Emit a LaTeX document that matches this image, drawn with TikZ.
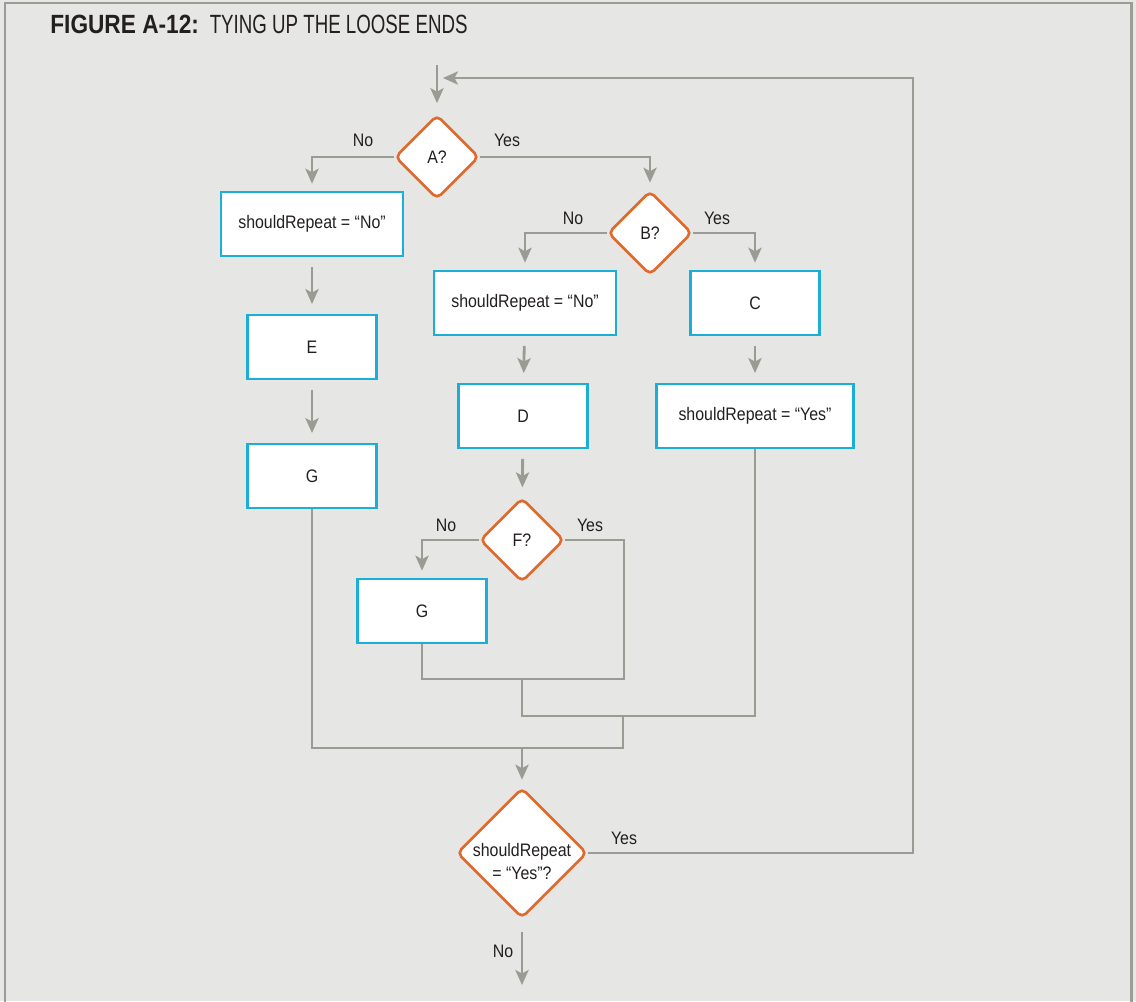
\documentclass[tikz,border=0pt]{standalone}
\usepackage{fontspec}
\setmainfont{Liberation Sans}[FakeStretch=0.88]
\newfontfamily\titlebold{Liberation Sans Bold}[FakeStretch=0.86]
\newfontfamily\titlefont{Liberation Sans}[FakeStretch=0.71]
\usetikzlibrary{positioning,arrows.meta,shapes.geometric}
\definecolor{panelgray}{RGB}{230,230,228}
\definecolor{framegray}{RGB}{155,156,148}
\definecolor{flowgray}{RGB}{154,155,147}
\definecolor{stepcyan}{RGB}{27,174,214}
\definecolor{testorange}{RGB}{224,106,44}
\definecolor{inkdark}{RGB}{35,31,32}

\begin{document}
\begin{tikzpicture}[x=.02cm,y=-.02cm,
    every node/.style={font=\fontsize{10.3}{13}\selectfont,text=inkdark},
    stepbox/.style={draw=stepcyan,line width=1.5pt,fill=white,minimum height=1.28cm,inner sep=0pt},
    testbox/.style={diamond,draw=testorange,line width=1.5pt,fill=white,rounded corners=3pt,minimum size=1.68cm,inner sep=0pt,align=center},
    flow/.style={draw=flowgray,line width=1.6pt,-{Stealth[length=8.5pt,width=7.5pt,inset=2pt]}},
    joinline/.style={draw=flowgray,line width=1.6pt},
    branch/.style={flow,shorten >=4pt},
    chain/.style={flow,shorten <=5.5pt,shorten >=5.5pt}]
    \useasboundingbox (0,0) rectangle (1136,1001);
    \fill[panelgray] (0,0) rectangle (1136,1001);
    \draw[framegray,line width=1.7pt] (5,1010) |- (1131,3) -- (1131,1010);
    \node[anchor=base west,inner sep=0pt,font=\fontsize{15}{18}\selectfont] (title) at (50,33)
      {{\titlebold FIGURE A-12:}\ \,{\titlefont TYING UP THE LOOSE ENDS}};

    % decisions and steps
    \node[testbox] (A) at (437,157) {A?};
    \node[stepbox,minimum width=3.64cm] (N1) at (312,224) {shouldRepeat = “No”};
    \node[stepbox,minimum width=2.58cm] (E) at (312,347) {E};
    \node[stepbox,minimum width=2.58cm] (G1) at (312,476) {G};
    \node[testbox] (B) at (650,233) {B?};
    \node[stepbox,minimum width=3.64cm] (N2) at (525,303) {shouldRepeat = “No”};
    \node[stepbox,minimum width=2.58cm] (D) at (523,416) {D};
    \node[testbox] (F) at (522,540) {F?};
    \node[stepbox,minimum width=2.58cm] (G2) at (422,611) {G};
    \node[stepbox,minimum width=2.58cm] (C) at (755,303) {C};
    \node[stepbox,minimum width=3.94cm] (Y) at (755,416) {shouldRepeat = “Yes”};
    \node[testbox,minimum size=2.6cm,
      label={[align=center,yshift=-.17cm]center:shouldRepeat\\= “Yes”?}] (R) at (522,853) {};

    \coordinate (entry) at (437,65);
    \coordinate (loopin) at (443,78);
    \coordinate (loopturn) at (913,78);
    \coordinate (fjoin) at (624,679);
    \coordinate (fmid) at (522,679);
    \coordinate (cjoin) at (755,716);
    \coordinate (cmid) at (623,716);
    \coordinate (gjoin) at (623,748);
    \coordinate (gmid) at (522,748);
    \coordinate (exit) at (522,985);

    % connectors
    \draw[flow,shorten >=6pt] (entry) -- (A.north);
    \draw[branch] (A.west) -| (N1.north);
    \draw[branch] (A.east) -| (B.north);
    \draw[branch] (B.west) -| (N2.north);
    \draw[branch] (B.east) -| (C.north);
    \draw[chain] (N1) -- (E);
    \draw[chain] (E) -- (G1);
    \draw[chain] (N2) -- (D);
    \draw[chain] (D) -- (F);
    \draw[chain] (C) -- (Y);
    \draw[branch] (F.west) -| (G2.north);
    \draw[joinline] (F.east) -| (fjoin) -| (G2.south);
    \draw[joinline] (fmid) |- (cjoin) -- (Y.south);
    \draw[joinline] (cmid) -- (gjoin) -| (G1.south);
    \draw[flow,shorten >=4pt] (gmid) -- (R.north);
    \draw[flow] (R.east) -| (loopturn) -- (loopin);
    \draw[flow,shorten <=7pt] (R.south) -- (exit);

    % branch labels
    \node (noA) at (363,140) {No};
    \node (yesA) at (507,140) {Yes};
    \node (noB) at (573,218) {No};
    \node (yesB) at (717,218) {Yes};
    \node (noF) at (446,525) {No};
    \node (yesF) at (590,525) {Yes};
    \node (yesR) at (624,838) {Yes};
    \node (noR) at (503,951) {No};
\end{tikzpicture}
\end{document}
